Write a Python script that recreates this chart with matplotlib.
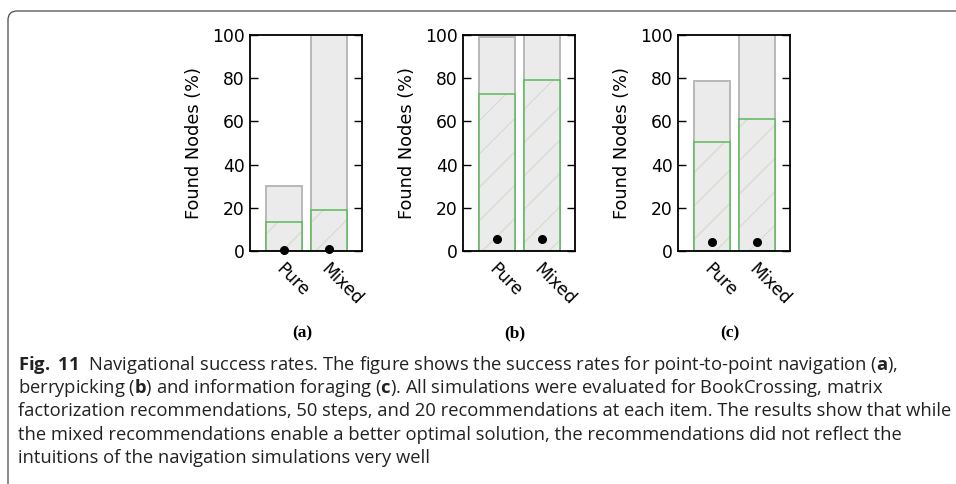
import matplotlib
matplotlib.use("Agg")
import matplotlib.pyplot as plt
from matplotlib.patches import FancyBboxPatch
from matplotlib.transforms import IdentityTransform

# 数据：三种导航场景，每个两组推荐方式
PANELS = ["(a)", "(b)", "(c)"]
CATEGORIES = ["Pure", "Mixed"]
OPTIMAL = [[30.0, 100.0], [99.3, 100.0], [78.7, 100.0]]   # 灰色柱
FOUND = [[13.4, 19.0], [72.7, 79.2], [50.3, 61.3]]        # 绿色柱
SIMULATED = [[0.4, 0.8], [5.6, 5.4], [4.3, 4.0]]          # 黑点

CAPTION_LINES = [
    r"$\mathbf{Fig.}$ $\mathbf{11}$  Navigational success rates. The figure shows the success rates for point-to-point navigation ($\mathbf{a}$),",
    r"berrypicking ($\mathbf{b}$) and information foraging ($\mathbf{c}$). All simulations were evaluated for BookCrossing, matrix",
    "factorization recommendations, 50 steps, and 20 recommendations at each item. The results show that while",
    "the mixed recommendations enable a better optimal solution, the recommendations did not reflect the",
    "intuitions of the navigation simulations very well",
]

W, H = 956, 484
DPI = 100

plt.rcParams["mathtext.fontset"] = "custom"
plt.rcParams["mathtext.rm"] = "Open Sans"
plt.rcParams["mathtext.bf"] = "Open Sans:bold"
plt.rcParams["hatch.linewidth"] = 0.8

fig = plt.figure(figsize=(W / DPI, H / DPI), dpi=DPI)

# 外框（左上圆角）
frame = FancyBboxPatch((8, -40), 1000, H - 11 + 40, boxstyle="round,pad=0,rounding_size=9",
                       transform=IdentityTransform(), fill=False, edgecolor="#4a4a4a",
                       linewidth=0.9)
fig.patches.append(frame)

lefts = [250, 463, 678]
ax_w, ax_top, ax_bot = 112, 35, 251
x = [0, 1]
label_off = 0.12  # 刻度线不可见，标签略向左

for k, left in enumerate(lefts):
    ax = fig.add_axes([left / W, 1 - ax_bot / H, ax_w / W, (ax_bot - ax_top) / H])
    ax.bar(x, OPTIMAL[k], width=0.8, color="#ebebeb", edgecolor="#b8b8b8", linewidth=1.4, zorder=1)
    # 阴影线用浅色，边框单独画绿色
    ax.bar(x, FOUND[k], width=0.8, color="#ebebeb", edgecolor="#d5dccb", linewidth=0.0,
           hatch="/", zorder=2)
    ax.bar(x, FOUND[k], width=0.8, fill=False, edgecolor="#5cb85c", linewidth=1.1, zorder=3)
    ax.plot(x, SIMULATED[k], "o", color="black", markersize=5.5, zorder=4, clip_on=False)

    ax.set_xlim(-0.76, 1.73)
    ax.set_ylim(0, 100)
    ax.set_yticks([0, 20, 40, 60, 80, 100])
    ax.tick_params(axis="y", direction="in", length=5.5, width=1.0, right=True,
                   labelsize=12.3, pad=4)
    ax.set_xticks([v - label_off for v in x])
    ax.set_xticklabels(CATEGORIES, rotation=-45, ha="left", va="center",
                       rotation_mode="anchor", fontsize=12.3)
    ax.tick_params(axis="x", length=0, pad=11)
    ax.set_ylabel("Found Nodes (%)", fontsize=12.8, labelpad=6)
    for sp in ax.spines.values():
        sp.set_linewidth(1.3)
        sp.set_zorder(5)

    cx = (left + 52) / W
    fig.text(cx, 1 - 333 / H, PANELS[k], ha="center", va="center",
             family="Liberation Serif", weight="bold", fontsize=12.5)

# 图注
for i, line in enumerate(CAPTION_LINES):
    fig.text(18 / W, 1 - (370 + 23.25 * i) / H, line, ha="left", va="baseline",
             family="Open Sans", fontsize=13.2, color="#222222")

fig.savefig("out.png", dpi=DPI)
